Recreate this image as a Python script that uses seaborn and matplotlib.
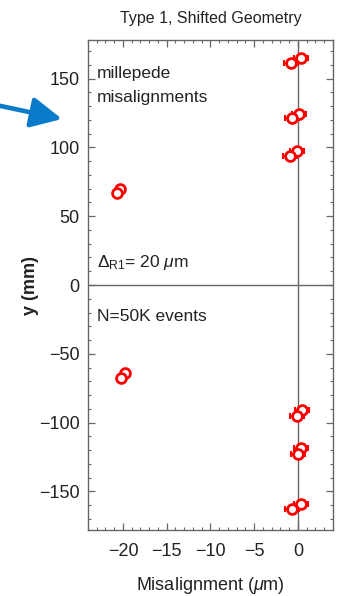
import matplotlib
matplotlib.use("Agg")
import matplotlib.pyplot as plt
import seaborn as sns
import numpy as np
import pandas as pd
from matplotlib.ticker import MultipleLocator

sns.set_style("ticks")
plt.rcParams['font.family'] = ['Liberation Sans', 'DejaVu Sans']
plt.rcParams['mathtext.fontset'] = 'custom'
plt.rcParams['mathtext.rm'] = 'Liberation Sans'
plt.rcParams['mathtext.it'] = 'Liberation Sans:italic'

# Module y positions (mm) and fitted misalignments (um)
y_pos = [165, 161, 124.5, 121, 97, 93.5, 70, 66.5,
         -64, -67.5, -91, -95, -118.5, -122.5, -159, -163]
misalign = [0.4, -0.8, 0.15, -0.7, -0.1, -0.9, -20.3, -20.7,
            -19.8, -20.2, 0.5, -0.15, 0.3, 0.05, 0.35, -0.65]
misalign_err = [0.8, 0.8, 0.8, 0.8, 0.8, 0.8, 0.4, 0.4,
                0.4, 0.4, 0.8, 0.8, 0.8, 0.8, 0.8, 0.8]

x_ticks = [-20, -15, -10, -5, 0]
y_ticks = [-150, -100, -50, 0, 50, 100, 150]

df = pd.DataFrame({"x": misalign, "y": y_pos, "xerr": misalign_err})

fig = plt.figure(figsize=(3.39, 5.96), dpi=100)
ax = fig.add_axes([0.2596, 0.1107, 0.7224, 0.8222])

frame_col = "#666666"
ax.axvline(0, color=frame_col, lw=1.0, zorder=1)
ax.axhline(0, color=frame_col, lw=1.0, zorder=1)

ax.errorbar(df["x"], df["y"], xerr=df["xerr"], fmt="none", ecolor="red",
            elinewidth=1.5, capsize=2, capthick=1.5, zorder=2)
sns.scatterplot(data=df, x="x", y="y", ax=ax, marker="o", s=50,
                facecolor="white", edgecolor="red", linewidth=2.0, zorder=3)

ax.set_xlim(-24, 4)
ax.set_ylim(-178, 178)
ax.set_xticks(x_ticks)
ax.set_yticks(y_ticks)
ax.set_xticklabels([f"\u2212{abs(v)}" if v < 0 else str(v) for v in x_ticks])
ax.set_yticklabels([f"\u2212{abs(v)}" if v < 0 else str(v) for v in y_ticks])
ax.xaxis.set_minor_locator(MultipleLocator(1))
ax.yaxis.set_minor_locator(MultipleLocator(10))
ax.tick_params(which="both", direction="in", top=True, right=True,
               color=frame_col, labelsize=13, labelcolor="#222222")
ax.tick_params(axis="x", which="major", pad=9)
ax.tick_params(axis="y", which="major", pad=6)
ax.tick_params(which="major", length=5, width=0.9)
ax.tick_params(which="minor", length=2.5, width=0.8)
for s in ax.spines.values():
    s.set_color(frame_col)
    s.set_linewidth(1.0)

ax.set_xlabel(r"Misalignment ($\mu$m)", fontsize=13, color="#222222", labelpad=11)
ax.set_ylabel("y (mm)", fontsize=13, fontweight="bold", color="#222222", labelpad=0)
ax.set_title("Type 1, Shifted Geometry", fontsize=11.5, color="#222222", pad=12)

txt = dict(fontsize=12.5, color="#222222", transform=ax.transData)
ax.text(-23.0, 154, "millepede", va="center", ha="left", **txt)
ax.text(-23.0, 136, "misalignments", va="center", ha="left", **txt)
ax.text(-23.0, 16, r"$\Delta_{\mathrm{R1}}$= 20 $\mu$m", va="center", ha="left", **txt)
ax.text(-23.0, -23, "N=50K events", va="center", ha="left", **txt)

# highlight arrow pointing at the upper module group
fig_h = 596
ax.annotate("", xy=(62, fig_h - 119), xycoords="figure pixels",
            xytext=(-4, fig_h - 105), textcoords="figure pixels",
            arrowprops=dict(arrowstyle="-|>,head_length=0.85,head_width=0.42",
                            mutation_scale=22, lw=3.3, color="#0a7bc8",
                            shrinkA=0, shrinkB=0),
            annotation_clip=False)

fig.savefig("out.png", dpi=100)
